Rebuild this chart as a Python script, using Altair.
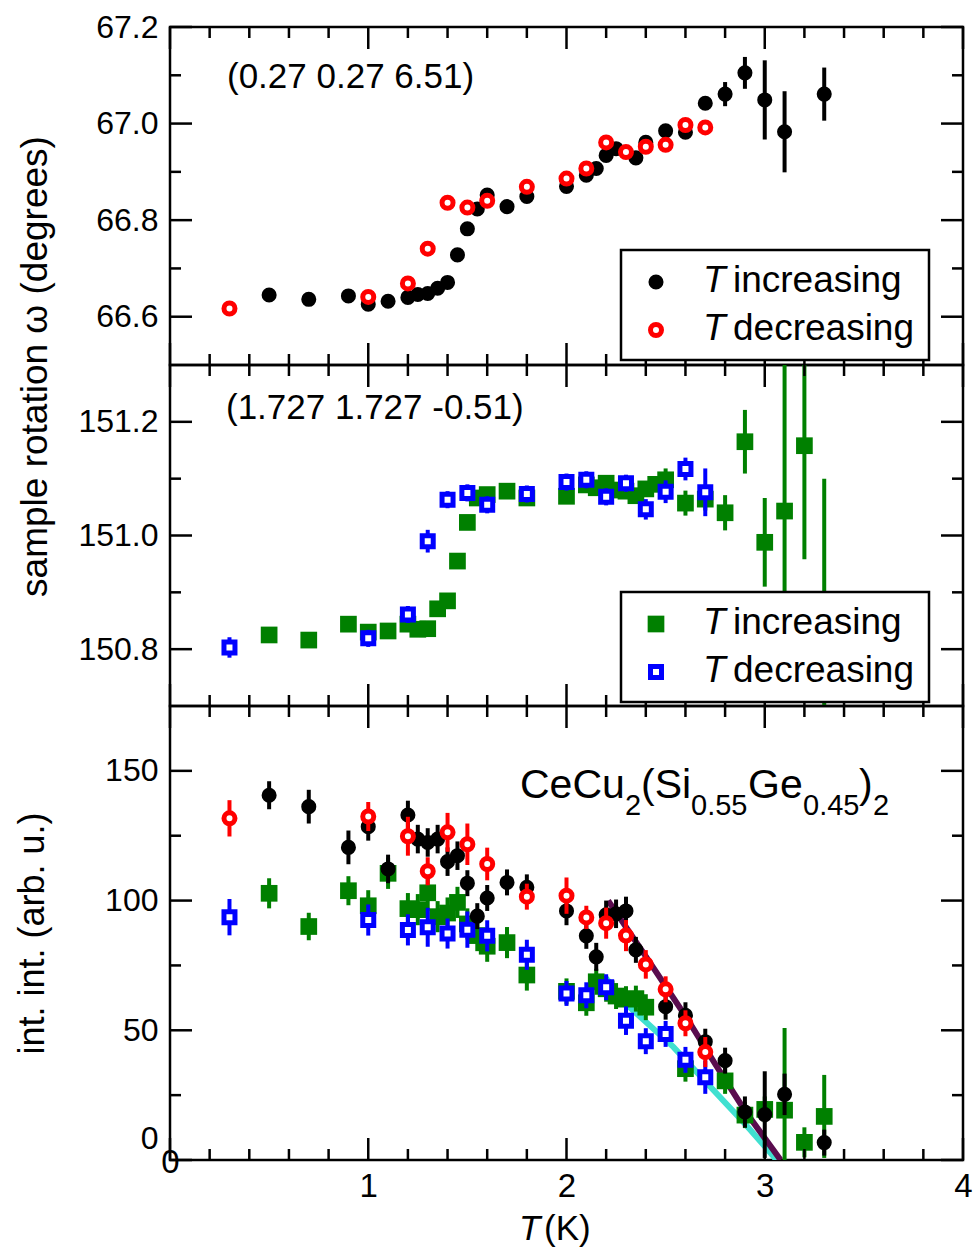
import altair as alt
import pandas as pd

FONT = "Liberation Sans"
W = 793
H_TOP, H_MID, H_BOT = 338, 341, 454

# ---------------- tick values ----------------
X_MAJOR = [0, 1, 2, 3, 4]
X_MINOR = [0.2, 0.4, 0.6, 0.8, 1.2, 1.4, 1.6, 1.8, 2.2, 2.4, 2.6, 2.8, 3.2, 3.4, 3.6, 3.8]
TOP_Y_MAJOR = [66.6, 66.8, 67.0, 67.2]
TOP_Y_MINOR = [66.7, 66.9, 67.1]
MID_Y_MAJOR = [150.8, 151.0, 151.2]
MID_Y_MINOR = [150.9, 151.1]
BOT_Y_MAJOR = [0, 50, 100, 150]
BOT_Y_MINOR = [25, 75, 125]

# ---------------- top panel (0.27 0.27 6.51) ----------------
TOP_INC_T = [0.5, 0.7, 0.9, 1.0, 1.1, 1.2, 1.25, 1.3, 1.35, 1.4, 1.45, 1.5, 1.55, 1.6, 1.7, 1.8,
             2.0, 2.1, 2.15, 2.2, 2.25, 2.35, 2.4, 2.5, 2.6, 2.7, 2.8, 2.9, 3.0, 3.1, 3.3]
TOP_INC_W = [66.645, 66.636, 66.643, 66.626, 66.632, 66.640, 66.646, 66.648, 66.659, 66.671,
             66.728, 66.782, 66.823, 66.852, 66.828, 66.849, 66.870, 66.893, 66.907, 66.934,
             66.948, 66.929, 66.961, 66.985, 66.982, 67.042, 67.061, 67.105, 67.049, 66.983, 67.061]
TOP_INC_E = [0.008, 0.008, 0.008, 0.008, 0.008, 0.008, 0.008, 0.008, 0.008, 0.008,
             0.008, 0.008, 0.008, 0.008, 0.008, 0.008, 0.008, 0.008, 0.008, 0.008,
             0.008, 0.008, 0.008, 0.008, 0.008, 0.012, 0.025, 0.033, 0.082, 0.084, 0.055]
TOP_DEC_T = [0.3, 1.0, 1.2, 1.3, 1.4, 1.5, 1.6, 1.8, 2.0, 2.1, 2.2, 2.3, 2.4, 2.5, 2.6, 2.7]
TOP_DEC_W = [66.617, 66.641, 66.669, 66.741, 66.836, 66.826, 66.840, 66.869, 66.886, 66.907,
             66.961, 66.941, 66.952, 66.956, 66.997, 66.992]
TOP_DEC_E = [0.008, 0.008, 0.008, 0.008, 0.008, 0.008, 0.008, 0.008, 0.008, 0.008,
             0.008, 0.008, 0.008, 0.008, 0.008, 0.014]

# ---------------- middle panel (1.727 1.727 -0.51) ----------------
MID_INC_T = [0.5, 0.7, 0.9, 1.0, 1.1, 1.2, 1.25, 1.3, 1.35, 1.4, 1.45, 1.5, 1.55, 1.6, 1.7, 1.8,
             2.0, 2.1, 2.15, 2.2, 2.25, 2.3, 2.35, 2.4, 2.45, 2.5, 2.6, 2.7, 2.8, 2.9, 3.0, 3.1, 3.2, 3.3]
MID_INC_W = [150.825, 150.816, 150.844, 150.830, 150.832, 150.844, 150.835, 150.836, 150.871, 150.885,
             150.955, 151.023, 151.066, 151.072, 151.078, 151.066, 151.069, 151.089, 151.084, 151.092,
             151.080, 151.078, 151.070, 151.082, 151.090, 151.098, 151.057, 151.064, 151.040, 151.165,
             150.988, 151.043, 151.158, 150.80]
MID_INC_E = [0.012, 0.012, 0.012, 0.012, 0.012, 0.012, 0.012, 0.012, 0.012, 0.012,
             0.012, 0.012, 0.012, 0.012, 0.012, 0.012, 0.012, 0.012, 0.012, 0.012,
             0.012, 0.012, 0.012, 0.012, 0.012, 0.020, 0.022, 0.020, 0.031, 0.056,
             0.078, 0.30, 0.20, 0.30]
MID_DEC_T = [0.3, 1.0, 1.2, 1.3, 1.4, 1.5, 1.6, 1.8, 2.0, 2.1, 2.2, 2.3, 2.4, 2.5, 2.6, 2.7]
MID_DEC_W = [150.803, 150.819, 150.861, 150.990, 151.063, 151.075, 151.054, 151.073, 151.094, 151.098,
             151.068, 151.092, 151.046, 151.077, 151.117, 151.076]
MID_DEC_E = [0.018, 0.015, 0.015, 0.020, 0.015, 0.015, 0.015, 0.015, 0.015, 0.015,
             0.015, 0.015, 0.018, 0.020, 0.020, 0.042]

# ---------------- bottom panel: integrated intensity ----------------
BOT_BLK_T = [0.5, 0.7, 0.9, 1.0, 1.1, 1.2, 1.25, 1.3, 1.35, 1.4, 1.45, 1.5, 1.55, 1.6, 1.7, 1.8,
             2.0, 2.1, 2.15, 2.2, 2.25, 2.3, 2.35, 2.5, 2.6, 2.7, 2.8, 2.9, 3.0, 3.1, 3.3]
BOT_BLK_I = [140.6, 136.2, 120.5, 128.5, 112.2, 133.0, 123.7, 122.4, 123.7, 115.0,
             117.3, 106.7, 94.0, 101.0, 107.0, 105.1, 96.0, 86.4, 78.3, 94.5,
             94.9, 96.0, 81.0, 59.1, 55.8, 45.6, 38.3, 18.5, 17.5, 25.3, 6.7]
BOT_BLK_E = [5.4, 6.5, 6.5, 5.4, 5.5, 5.5, 5.5, 5.5, 5.5, 5.5,
             5.5, 5.0, 5.0, 5.0, 5.0, 5.0, 5.5, 5.0, 5.4, 5.5,
             5.5, 5.5, 5.0, 5.0, 5.0, 5.0, 5.0, 6.0, 16.7, 8.0, 5.0]
BOT_RED_T = [0.3, 1.0, 1.2, 1.3, 1.4, 1.5, 1.6, 1.8, 2.0, 2.1, 2.2, 2.3, 2.4, 2.5, 2.6, 2.7]
BOT_RED_I = [131.7, 132.4, 124.8, 111.3, 126.3, 121.7, 114.1, 101.5, 101.9, 93.5,
             91.3, 86.5, 75.4, 65.8, 52.7, 41.6]
BOT_RED_E = [7.0, 5.6, 7.5, 5.4, 7.5, 8.0, 6.3, 5.0, 7.0, 4.5, 6.0, 6.0, 5.5, 5.0, 5.0, 5.8]
BOT_GRN_T = [0.5, 0.7, 0.9, 1.0, 1.1, 1.2, 1.25, 1.3, 1.35, 1.4, 1.45, 1.5, 1.55, 1.6, 1.7, 1.8,
             2.0, 2.1, 2.15, 2.2, 2.25, 2.3, 2.35, 2.4, 2.6, 2.8, 2.9, 3.0, 3.1, 3.2, 3.3]
BOT_GRN_I = [102.8, 90.0, 103.8, 98.0, 110.5, 96.9, 96.5, 103.0, 93.8, 95.2,
             99.3, 91.0, 86.5, 82.4, 83.8, 71.3, 65.0, 60.6, 68.7, 66.0,
             63.2, 62.0, 62.2, 58.9, 35.2, 30.5, 17.3, 19.5, 19.2, 6.8, 16.8]
BOT_GRN_E = [5.8, 5.3, 5.6, 6.0, 6.0, 6.0, 6.0, 7.0, 6.0, 6.0,
             6.0, 6.0, 6.0, 6.0, 6.0, 6.0, 5.0, 5.0, 5.0, 5.0,
             5.0, 5.0, 5.0, 5.0, 5.0, 5.0, 5.0, 5.0, 31.7, 5.8, 16.0]
BOT_BLU_T = [0.3, 1.0, 1.2, 1.3, 1.4, 1.5, 1.6, 1.8, 2.0, 2.1, 2.2, 2.3, 2.4, 2.5, 2.6, 2.7]
BOT_BLU_I = [93.6, 92.5, 88.7, 89.7, 87.3, 88.8, 86.4, 79.1, 64.2, 63.5,
             66.6, 53.7, 45.8, 48.6, 38.6, 31.9]
BOT_BLU_E = [7.0, 6.0, 6.0, 7.5, 5.8, 7.0, 6.0, 5.8, 4.8, 5.0, 5.0, 5.5, 5.0, 5.0, 5.0, 6.4]

FIT_INC_T = [2.21, 2.4, 2.6, 2.75, 2.9, 3.08]
FIT_INC_I = [100, 78.5, 55.5, 37, 19, 0]
FIT_DEC_T = [2.2, 2.31, 2.54, 2.71, 2.9, 3.06]
FIT_DEC_I = [70, 59.5, 43.5, 29.5, 14, 0]

ONE = pd.DataFrame({"k": [0]})

MARKERS = {
    "black": dict(shape="circle", filled=True, color="black", size=227, strokeWidth=0, opacity=1),
    "red": dict(shape="circle", filled=True, fill="white", stroke="#ff0000", strokeWidth=5, size=121, opacity=1),
    "green": dict(shape="square", filled=True, color="#008000", size=279, strokeWidth=0, opacity=1),
    "blue": dict(shape="square", filled=True, fill="white", stroke="#0000ff", strokeWidth=5, size=121, opacity=1),
}
BAR_COLOR = {"black": "black", "red": "#ff0000", "green": "#008000", "blue": "#0000ff"}


def X(field, show_x, axis=None):
    sc = alt.Scale(domain=[0, 4], nice=False, zero=False)
    if not show_x:
        return alt.X(field, scale=sc, axis=None)
    if axis is not None:
        return alt.X(field, scale=sc, axis=axis)
    return alt.X(field, scale=sc)


def Y(field, ysc, axis=None):
    if axis is not None:
        return alt.Y(field, scale=ysc, axis=axis)
    return alt.Y(field, scale=ysc)


def series(T, V, E, kind, ysc, show_x, xaxis=None, yaxis=None):
    df = pd.DataFrame({"T": T, "v": V, "e": E})
    df["lo"] = df["v"] - df["e"]
    df["hi"] = df["v"] + df["e"]
    bars = alt.Chart(df).mark_rule(color=BAR_COLOR[kind], strokeWidth=4, clip=True).encode(
        x=X("T:Q", show_x), y=Y("lo:Q", ysc), y2="hi:Q")
    pts = alt.Chart(df).mark_point(clip=True, **MARKERS[kind]).encode(
        x=X("T:Q", show_x, xaxis), y=Y("v:Q", ysc, yaxis))
    return [bars, pts]


def ticks(ysc, ymaj, ymin, h, show_x):
    out = []
    for vals, L in [(X_MAJOR, 22), (X_MINOR, 11)]:
        df = pd.DataFrame({"t": vals})
        base = alt.Chart(df).mark_rule(color="black", strokeWidth=2.5)
        out.append(base.encode(x=X("t:Q", show_x), y=alt.value(h), y2=alt.value(h - L)))
        out.append(base.encode(x=X("t:Q", show_x), y=alt.value(0), y2=alt.value(L)))
    for vals, L in [(ymaj, 22), (ymin, 11)]:
        df = pd.DataFrame({"t": vals})
        base = alt.Chart(df).mark_rule(color="black", strokeWidth=2.5)
        out.append(base.encode(y=Y("t:Q", ysc), x=alt.value(0), x2=alt.value(L)))
        out.append(base.encode(y=Y("t:Q", ysc), x=alt.value(W), x2=alt.value(W - L)))
    return out


def txt(s, x, y, size, style="normal", align="left"):
    return alt.Chart(ONE).mark_text(text=s, font=FONT, fontSize=size, fontStyle=style, align=align,
                                    baseline="alphabetic", color="black").encode(
        x=alt.value(x), y=alt.value(y))


def legend(y0, kinds, labels):
    out = [alt.Chart(ONE).mark_rect(fill="white", stroke="black", strokeWidth=2.5).encode(
        x=alt.value(451), x2=alt.value(759), y=alt.value(y0), y2=alt.value(y0 + 110))]
    for i, (kind, lab) in enumerate(zip(kinds, labels)):
        yc = y0 + 32 + 48 * i
        out.append(alt.Chart(ONE).mark_point(**MARKERS[kind]).encode(x=alt.value(486), y=alt.value(yc)))
        out.append(txt("T", 533, yc + 10, 37, style="italic"))
        out.append(txt(lab, 563, yc + 10, 37))
    return out


def yaxis(values, fmt, **extra):
    kw = dict(values=values, format=fmt, labelFont=FONT, labelFontSize=32, labelColor="black",
              labelPadding=12, ticks=False, domain=False, grid=False,
              labelFlush=False, labelOverlap=False)
    kw.update(extra)
    return alt.Axis(**kw)


TITLE_KW = dict(titleAngle=270, titleAlign="center", titleBaseline="middle", titleFont=FONT,
                titleFontWeight="normal", titleColor="black")

# ---------- top ----------
ys_top = alt.Scale(domain=[66.5, 67.2], nice=False, zero=False)
top_layers = []
top_layers += series(TOP_INC_T, TOP_INC_W, TOP_INC_E, "black", ys_top, False,
                     yaxis=yaxis(TOP_Y_MAJOR, ".1f", title="sample rotation ω (degrees)",
                                 titleX=-135, titleY=339, titleFontSize=37, **TITLE_KW))
top_layers += series(TOP_DEC_T, TOP_DEC_W, TOP_DEC_E, "red", ys_top, False)
top_layers += ticks(ys_top, TOP_Y_MAJOR, TOP_Y_MINOR, H_TOP, False)
top_layers.append(txt("(0.27 0.27 6.51)", 57, 61, 35))
top_layers += legend(223, ["black", "red"], ["increasing", "decreasing"])
top = alt.layer(*top_layers).properties(width=W, height=H_TOP)

# ---------- middle ----------
ys_mid = alt.Scale(domain=[150.7, 151.3], nice=False, zero=False)
mid_layers = []
mid_layers += series(MID_INC_T, MID_INC_W, MID_INC_E, "green", ys_mid, False,
                     yaxis=yaxis(MID_Y_MAJOR, ".1f", title=""))
mid_layers += series(MID_DEC_T, MID_DEC_W, MID_DEC_E, "blue", ys_mid, False)
mid_layers += ticks(ys_mid, MID_Y_MAJOR, MID_Y_MINOR, H_MID, False)
mid_layers.append(txt("(1.727 1.727 -0.51)", 56, 54, 35))
mid_layers += legend(227, ["green", "blue"], ["increasing", "decreasing"])
mid = alt.layer(*mid_layers).properties(width=W, height=H_MID)

# ---------- bottom ----------
ys_bot = alt.Scale(domain=[0, 175], nice=False, zero=False)
fit_inc = alt.Chart(pd.DataFrame({"T": FIT_INC_T, "v": FIT_INC_I})).mark_line(
    color="#5a0c4e", strokeWidth=6, clip=True).encode(x=X("T:Q", True), y=Y("v:Q", ys_bot))
fit_dec = alt.Chart(pd.DataFrame({"T": FIT_DEC_T, "v": FIT_DEC_I})).mark_line(
    color="#40e0d0", strokeWidth=6, clip=True).encode(x=X("T:Q", True), y=Y("v:Q", ys_bot))

xaxis_bot = alt.Axis(values=X_MAJOR, format="d", labelFont=FONT, labelFontSize=33, labelColor="black",
                     labelPadding={"condition": {"test": "datum.value === 0", "value": -14}, "value": 10},
                     ticks=False, domain=False, grid=False, title="",
                     labelFlush=False, labelOverlap=False)
bot_layers = [fit_dec, fit_inc]
bot_layers += series(BOT_GRN_T, BOT_GRN_I, BOT_GRN_E, "green", ys_bot, True, xaxis=xaxis_bot,
                     yaxis=yaxis(BOT_Y_MAJOR, "d", title="int. int. (arb. u.)", titleX=-138, titleY=227,
                                 titleFontSize=36,
                                 labelOffset={"condition": {"test": "datum.value === 0", "value": -22}, "value": 0},
                                 **TITLE_KW))
bot_layers += series(BOT_BLU_T, BOT_BLU_I, BOT_BLU_E, "blue", ys_bot, True)
bot_layers += series(BOT_BLK_T, BOT_BLK_I, BOT_BLK_E, "black", ys_bot, True)
bot_layers += series(BOT_RED_T, BOT_RED_I, BOT_RED_E, "red", ys_bot, True)
bot_layers += ticks(ys_bot, BOT_Y_MAJOR, BOT_Y_MINOR, H_BOT, True)
# compound formula label
bot_layers += [
    txt("CeCu", 350, 92, 41), txt("2", 455, 109, 29),
    txt("(Si", 471, 92, 41), txt("0.55", 521, 109, 29),
    txt("Ge", 578, 92, 41), txt("0.45", 633, 109, 29),
    txt(")", 689, 92, 41), txt("2", 703, 109, 29),
]
# x-axis title
bot_layers += [txt("T", 349, 534, 35, style="italic"), txt("(K)", 374, 534, 35)]
bot = alt.layer(*bot_layers).properties(width=W, height=H_BOT)

chart = alt.vconcat(top, mid, bot, spacing=0, bounds="flush").properties(
    padding={"left": 12, "top": 9, "right": 0, "bottom": 0}
).configure_view(stroke="black", strokeWidth=2.5)

chart.save("out.html", embed_options={"renderer": "svg", "actions": False})
